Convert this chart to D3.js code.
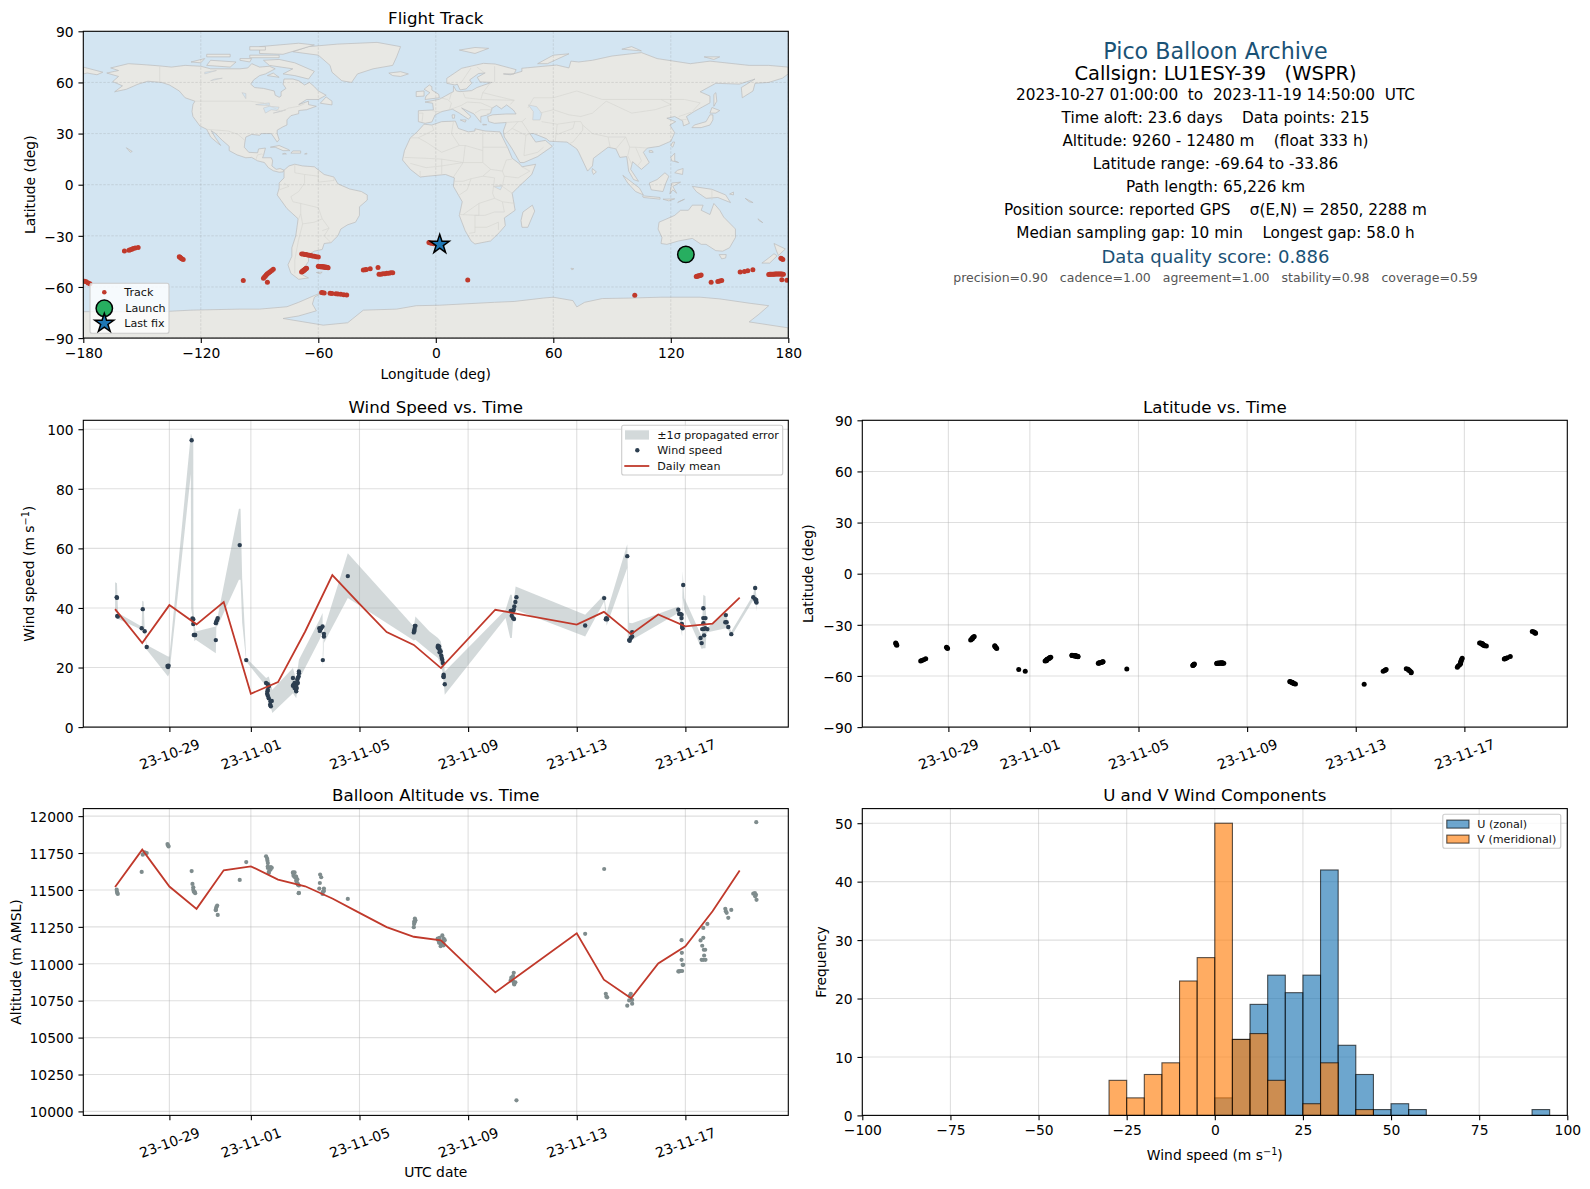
<!DOCTYPE html>
<html lang="en">

<head>
    <meta charset="UTF-8" />
    <title>Pico Balloon Archive</title>
    <script src="https://d3js.org/d3.v7.min.js"></script>
    <style>
        body { margin: 0; background: #fff; }
        text { font-family: "DejaVu Sans", sans-serif; white-space: pre; }
    </style>
</head>

<body>
    <svg id="chart" width="1590" height="1189"></svg>
</body>

<script>
// fixes, grouped by burst. fixDay = days after 2023-10-27 00:00 UTC
var fixDay = [
  0.06,0.07,0.08,0.10,
  0.98,1.02,1.09,1.165,
  1.93,1.95,1.97,
  2.82,2.85,2.88,2.88,2.90,2.93,2.95,
  3.71,3.71,3.73,3.76,3.78,
  4.59,
  4.83,
  5.56,5.60,5.61,5.625,5.625,5.625,5.66,5.66,5.71,5.72,5.735,5.77,
  6.55,6.55,6.57,6.61,6.61,6.65,6.66,6.67,6.67,6.69,6.71,6.73,6.73,6.76,6.77,6.77,
  7.52,7.54,7.55,7.59,7.64,7.65,7.69,7.69,
  8.57,
  11.0,11.01,11.02,11.03,11.04,11.06,
  11.88,11.89,11.91,11.93,11.95,11.95,11.99,12.01,12.03,12.05,12.07,12.09,12.10,12.10,12.14,
  14.57,14.59,14.605,14.655,14.655,14.68,14.69,14.70,14.74,14.78,
  17.31,
  18.01,
  18.07,18.09,18.12,
  18.86,
  18.93,18.95,18.99,19.04,19.04,
  20.74,20.77,20.82,20.86,20.86,20.87,20.88,20.90,20.92,
  21.56,21.60,21.62,21.66,21.66,21.66,21.68,21.69,21.73,21.74,21.81,
  22.47,22.49,22.52,22.58,22.69,
  23.50,23.56,23.57,23.60,23.61,23.62
];
var windSpeed = [
  43.6,43.4,37.3,37.1,
  33.2,39.6,32.2,26.9,
  20.5,20.2,20.6,
  96.3,36.5,36.2,34.6,30.9,30.9,30.9,
  29.2,34.9,35.5,36,36.6,
  61.1,
  22.5,
  14.8,11.2,12,14.4,12.5,10.5,13.7,9.7,7.5,8.6,7,8.8,
  16.5,13.9,14.2,14.8,13.1,13.7,12.5,12,13.9,13.1,15.9,14.8,16.5,17,18.1,18.7,
  33.2,32.3,32.7,33.2,33.8,22.5,31.3,30.4,
  50.7,
  31.8,32.3,32.3,33,34,34,
  26.9,27.3,26.5,27.1,26,25.1,25.4,24,23.2,22.6,21.5,17,17.6,16.8,14.4,
  39,39,37.4,39,36.6,39.4,36.3,40.5,42,43.6,
  34.1,
  43.3,
  36.2,36.6,36.2,
  57.4,
  29.2,29,29.9,30.4,31.9,
  39.4,38,38,37.7,36.6,34.6,33.6,33.2,47.7,
  29.9,28.2,32.9,34.9,36.6,39.9,32.9,30.8,33.2,36.6,32.9,
  35.2,37.6,35.2,33.6,31.2,
  43.6,43,46.7,42.2,42.7,41.8
];
var altitude = [
  11502,11487,11480,11473,
  11622,11739,11755,11750,
  11811,11802,11795,
  11628,11541,11518,11502,11487,11487,11478,
  11363,11367,11383,11394,11331,
  11568,
  11689,
  11728,11712,11698,11682,11660,11649,11622,11615,11644,11637,11655,11650,
  11615,11619,11597,11619,11588,11592,11581,11588,11563,11554,11572,11541,11536,11478,11480,11530,
  11509,11547,11604,11586,11473,11487,11509,11493,
  11439,
  11248,11270,11288,11282,11306,11295,
  11171,11165,11158,11142,11150,11176,11119,11131,11145,11192,11153,11140,11170,11125,11160,
  10888,10906,10894,10917,10883,10939,10865,10860,10875,10075,
  11203,
  11642,
  10797,10777,10773,
  10716,
  10752,10782,10797,10755,10730,
  10948,10948,10951,11027,11160,11074,10951,10993,10993,
  11158,11027,11122,11176,11027,11243,11095,11056,11095,11027,11270,
  11372,11356,11345,11311,11365,
  11475,11478,11457,11467,11959,11433
];
var latitude = [
  -40.6,-41,-41.5,-42,
  -51.2,-50.9,-50.5,-49.9,
  -43.2,-43.5,-43.9,
  -38.9,-38.4,-38.2,-37.8,-37.5,-37.2,-36.8,
  -42.2,-42.6,-43,-43.4,-43.9,
  -56.2,
  -57.2,
  -51.2,-51,-50.9,-50.7,-50.5,-50.3,-50.1,-50,-49.7,-49.5,-49.2,-49,
  -47.9,-48,-48,-48.1,-48.1,-48.2,-48.2,-48.2,-48.3,-48.3,-48.3,-48.4,-48.4,-48.5,-48.6,-48.7,
  -52.6,-52.5,-52.3,-52.2,-52,-51.9,-51.7,-51.6,
  -55.9,
  -53.9,-53.7,-53.5,-53.4,-53.2,-53,
  -52.7,-52.6,-52.6,-52.5,-52.5,-52.5,-52.4,-52.4,-52.4,-52.4,-52.4,-52.4,-52.4,-52.5,-52.6,
  -63.2,-63.4,-63.5,-63.7,-63.8,-64,-64.1,-64.3,-64.5,-64.7,
  -64.9,
  -57.3,
  -56.8,-56.5,-56.2,
  -55.7,
  -56,-56.6,-57,-57.6,-58.1,
  -54.9,-54.2,-53.5,-52.9,-52.3,-51.7,-51,-50.3,-49.6,
  -40.6,-40.7,-40.9,-41,-41.2,-41.4,-41.6,-41.8,-42,-42.2,-42.4,
  -50,-49.9,-49.8,-49.3,-48.6,
  -33.9,-34.2,-34.4,-34.6,-34.8,-34.9
];
var longitude = [
  128.2,128.5,128.9,129.2,
  155.4,157.6,159.3,161.9,
  176.2,176.7,177.2,
  -159,-156.7,-156,-155.2,-154.5,-153.5,-152,
  -131,-130.6,-130.2,-129.7,-129,
  -98.3,
  -86,
  -68.5,-68.3,-68.1,-67.9,-67.7,-67.5,-67.3,-67.1,-66.9,-66.6,-66.3,-66,
  -60,-59.6,-59.3,-59,-58.6,-58.3,-58,-57.7,-57.4,-57,-56.7,-56.4,-56,-55.7,-55.3,-55,
  -29,-28,-27,-26,-25,-24,-23,-22,
  16.3,
  133,133.4,133.9,134.4,135,135.5,
  170,170.5,171,171.6,172.2,172.7,173.2,173.8,174.3,174.9,175.4,176,176.5,177,177.5,
  -58.3,-57.8,-57,-54,-53,-51,-50,-48.5,-47,-45.5,
  101.6,
  140.6,
  144,145,146,
  176.7,
  179.3,-179.4,-178.5,-177.5,-176.6,
  -88,-87.5,-87,-86.5,-86,-85.3,-84.6,-83.8,-83,
  -68.5,-67.7,-67,-66.2,-65.4,-64.6,-63.8,-63,-62,-61,-60,
  -37,-36,-35.5,-33.5,-29.5,
  -3.5,-2.8,-2,-1,0.5,2
];

// propagated error band
var bandDay = [0,0.07,0.11,0.98,1.0,1.05,1.09,1.165,1.95,2.0,2.79,2.80,2.88,2.885,2.92,2.97,3.71,3.73,3.78,4.56,4.62,4.68,4.83,5.56,5.66,5.79,6.55,6.67,6.77,7.53,7.64,7.65,7.69,8.57,11.0,11.06,11.58,11.89,11.99,12.07,12.14,14.38,14.55,14.61,14.65,14.75,17.31,18.01,18.1,18.86,18.88,18.93,19.04,20.74,20.88,20.90,20.96,21.6,21.66,21.74,21.78,22.49,22.58,22.69,23.5,23.57,23.62];
var bandHigh = [48.6,48.3,38.3,33.8,42.4,42.2,33.2,27.6,23.7,23.7,98.4,98.4,96,39.9,34.9,32.1,33.8,36.0,37.2,73.3,73.3,50,23.2,16.5,17.0,12.5,19.8,15.9,22.6,36.0,38.3,24.8,32.7,58.4,33.8,37.1,32.1,29.9,28.8,25.4,18.7,39.4,44.4,44.4,40.5,47.2,37.7,44.4,38.3,61.4,53.4,35,34.9,40.5,37.1,52.3,43.3,30.4,44.4,43.9,33.2,38.8,34.4,32.1,44.4,48.3,43.3];
var bandLow = [38.8,38.3,36.3,32.7,33.8,32.1,31.3,26.0,17.0,18.1,85,40,34,33.8,28.8,29.3,24.8,33.8,34.0,49.5,49.5,35,22.0,13.7,9.2,4.7,11.4,9.7,15.9,29.3,32.1,19.8,28.2,43.3,29.1,29.3,25.4,23.2,20.9,18.1,10.9,36.6,29.9,29.9,34.9,39.4,30.4,42.2,34.0,53.4,30,28.4,29.3,38.3,30.4,43.3,39.4,26.2,26.5,26.5,31.8,33.2,32.7,30.4,42.7,43.3,38.8];

// daily means (days with data)
var meanDay = [0,1,2,3,4,5,6,7,8,9,10,11,12,14,17,18,19,20,21,22,23];
var meanWind = [39.6,28.2,40.95,34.5,42,11.2,15.1,32.1,51,41.4,31.9,27.6,19.8,39.4,34.4,38.7,31.2,37.8,33.8,34.7,43.5];
var meanAlt = [11520,11773,11523,11372,11633,11660,11570,11525,11442,11345,11248,11183,11158,10806,11207,10892,10766,11002,11119,11356,11631];

// histogram, 5 m/s bins (left edge, count)
var uEdge = [0,5,10,15,20,25,30,35,40,45,50,55,90];
var uCount = [3,13,19,24,21,24,42,12,7,1,2,1,1];
var vEdge = [-30,-25,-20,-15,-10,-5,0,5,10,15,25,30,40];
var vCount = [6,3,7,9,23,27,50,13,14,6,2,9,1];

var dateTicks = ['2023-10-29','2023-11-01','2023-11-05','2023-11-09','2023-11-13','2023-11-17'];
var lonTicks = [-180,-120,-60,0,60,120,180];
var latTicks = [-90,-60,-30,0,30,60,90];
var windTicks = [0,20,40,60,80,100];
var altTicks = [10000,10250,10500,10750,11000,11250,11500,11750,12000];
var histXTicks = [-100,-75,-50,-25,0,25,50,75,100];
var histYTicks = [0,10,20,30,40,50];

var launchFix = [127.7, -40.9];
var lastFix = [2, -35];

var summaryLines = [
  ['Pico Balloon Archive', 50.8, 22.2, '#1a5276'],
  ['Callsign: LU1ESY-39   (WSPR)', 73.3, 19.44, '#000'],
  ['2023-10-27 01:00:00  to  2023-11-19 14:50:00  UTC', 94.3, 15.28, '#000'],
  ['Time aloft: 23.6 days    Data points: 215', 117.3, 15.28, '#000'],
  ['Altitude: 9260 - 12480 m    (float 333 h)', 140.3, 15.28, '#000'],
  ['Latitude range: -69.64 to -33.86', 163.3, 15.28, '#000'],
  ['Path length: 65,226 km', 186.3, 15.28, '#000'],
  ['Position source: reported GPS    \u03c3(E,N) = 2850, 2288 m', 209.3, 15.28, '#000'],
  ['Median sampling gap: 10 min    Longest gap: 58.0 h', 232.3, 15.28, '#000'],
  ['Data quality score: 0.886', 256.7, 18.05, '#1a5276'],
  ['precision=0.90   cadence=1.00   agreement=1.00   stability=0.98   coverage=0.59', 277.7, 12.5, '#555']
];

// rough coastlines, lon/lat
var landRings = [
  // north america
  [[-168,65.5],[-164,66.5],[-162,67],[-166,68.5],[-157,71],[-150,70.5],[-141,69.7],[-135,69],[-128,70],[-120,69.5],[-115,68],[-108,68],[-100,68],[-96,68.5],[-94,71],[-90,69],[-85,69.5],[-82,68],[-87,65],[-90,64],[-93,61.5],[-94.5,59],[-92.5,57],[-88,56.5],[-82.5,55],[-82,52.5],[-80,51.3],[-79,52],[-79,54.5],[-76.5,56.5],[-78,59],[-77.5,62],[-73,62],[-70,61],[-67,58.5],[-64.5,60],[-62,57.5],[-60,55],[-56,52.5],[-60,50],[-66,50],[-70,47],[-65,49],[-65,47],[-61,46],[-66,44],[-70,43.5],[-70,41.7],[-74,40.5],[-76,38],[-76,35],[-78,34],[-81,32],[-81,30],[-80,26.5],[-81,25],[-82.5,27.5],[-84,30],[-89,30],[-90,29],[-94,29.5],[-97,28],[-97.5,25],[-97.8,22],[-95.5,19],[-91,18.7],[-90.5,21],[-87,21.5],[-88,17],[-88.5,15.8],[-84,15.8],[-83.3,14],[-83.7,11],[-81.5,9],[-79.5,9.5],[-77.5,8.5],[-78,7.5],[-80,7.3],[-83,8.2],[-85.5,10],[-87.5,13],[-91,14],[-94,16],[-97,15.8],[-101.5,17.5],[-105.5,20],[-105.5,22.5],[-109,26],[-112.5,30],[-114.7,31.7],[-112.5,27.5],[-109.8,23],[-112,25],[-115,28],[-117,32.5],[-120.5,34.5],[-124,40],[-124.5,43],[-124,47],[-123,49],[-128,51],[-131,55],[-136,58.5],[-140,60],[-147,60.7],[-152,59],[-158,56],[-164,54.5],[-160,58],[-165,60.5],[-162,63.5],[-168,65.5]],
  // south america
  [[-77.5,8.5],[-75,11],[-72,12],[-68,11],[-62,10.5],[-57,6],[-52,4.5],[-50,0.5],[-44,-2.5],[-38,-4],[-35,-6],[-35,-9],[-39,-13],[-39,-18],[-41,-22],[-45,-23.5],[-48.5,-26],[-50,-30],[-53.5,-34],[-57,-34.5],[-58,-38],[-62,-39],[-65,-41],[-65,-45],[-68,-50],[-68,-53],[-65,-54.7],[-70,-55.5],[-74,-52],[-75.5,-47],[-73.5,-42],[-73.5,-37],[-71.5,-30],[-70.3,-20],[-76,-14],[-81,-6],[-80,-2],[-80,1],[-77.5,4],[-77.5,8.5]],
  // africa
  [[-6,35.5],[-2,35],[3,37],[10,37.3],[11.5,33],[16.6,31],[20,31.5],[20,32.8],[25.2,31.5],[32.8,31],[34,28],[37,21],[39,15.5],[43,12],[44,10.5],[51,12],[49,6],[42,-1.5],[39,-5],[40.5,-15],[35,-19.5],[35.5,-24],[32.5,-28],[28,-33],[20,-34.8],[18,-33],[15,-27],[12,-18],[13.5,-10],[9,-1],[9.5,4],[5,6],[-4,5],[-8,4.5],[-13,9],[-17,14.5],[-16,20],[-13,27.5],[-9.5,31],[-6,35.5]],
  // eurasia
  [[-8.9,37],[-8.9,43.4],[-1.2,43.9],[-1.6,47.8],[-5.5,48.5],[1.8,50.1],[7.3,53.6],[9,54.6],[9,58],[10.5,55],[12.4,54.6],[18.3,55.2],[21,57],[23.4,58],[28.6,60],[22.6,60.3],[21.2,63],[25.2,65.6],[21.8,65.2],[17.3,61.5],[18.3,59.5],[15.5,56.2],[12.4,55.6],[11,59],[9.8,58.5],[5.6,59.5],[5.6,62.4],[13.2,68.3],[24.3,71.2],[30.3,70.8],[41,67.5],[40,65],[34.5,65],[38,64.5],[44,66.5],[43.9,68.3],[53.2,69.3],[61.7,70.2],[68,68.5],[69,72.5],[73,72],[80,73],[90,75.5],[105,77.5],[113,74],[130,71],[140,72.5],[160,70],[170,70],[180,69],[180,65],[177,62.5],[170,60],[163,59.5],[162,55],[156.5,51],[156,57],[163,62],[155,59],[143,59.5],[135,54.5],[140,52],[140,48],[132,43],[128,40],[129.5,36],[126.5,34.5],[126,37.5],[122,40],[118,39],[122.5,37],[119.5,35],[122,30.5],[120,25.5],[114,22.5],[108,21.5],[106,19],[109,13],[105,9],[100.5,13.5],[99.5,9],[103.5,2],[101,3],[98.5,8],[97.5,16.5],[94,16],[92,21],[88,22],[80.5,15.5],[80,11],[77.5,8],[73,19],[72,21],[67,25],[58,25.5],[56.5,27],[50,30],[48,30],[51,25],[56,26],[59.5,22.5],[52,16.5],[45,13],[43,13],[39,21],[35,28],[34.5,31.5],[36,36.5],[30,36],[27,37],[26.5,40],[29,41],[36.2,41.5],[41,41.5],[39.6,43.8],[36.2,46.8],[33.5,44.5],[31,46.5],[28.6,44.8],[28,42],[26,40.8],[23,40],[23,36.5],[19.5,41.5],[13.2,45],[18,40],[16.6,38.5],[12,42],[8.5,44.3],[3,42.9],[-0.4,40.9],[-2,36.8],[-5.5,36],[-8.9,37]],
  // chukotka past the dateline
  [[-180,69],[-175,67.5],[-170,66],[-173,64.5],[-178,65.5],[-180,65]],
  // australia and nearby
  [[114,-22],[122,-18],[125,-15],[129,-15],[131,-12],[136.5,-12],[135.5,-15],[140,-17.5],[142,-11],[145,-15],[147,-19],[153,-26],[153,-31],[150,-37],[146.5,-39],[143,-38.7],[138,-35],[135.5,-35],[131,-31.5],[124,-33],[118,-35],[115,-34.5],[115.5,-31],[113.5,-26],[114,-22]],
  [[144.7,-41],[148.3,-41],[148,-43],[146,-43.5]],
  [[172.7,-34.5],[178.5,-37.7],[175,-41.5],[174,-39]],
  [[172.7,-40.5],[174.3,-41.7],[170.5,-46],[166.5,-46],[170,-43]],
  // greenland and arctic
  [[-73,78],[-65,81],[-50,82.5],[-30,83.5],[-18,81],[-20,75],[-22,70],[-32,68],[-40,65],[-43,60],[-48,61],[-53,66],[-54,70],[-60,76]],
  [[-80,73.5],[-72,71.5],[-62,66.5],[-65,62],[-72,64],[-78,65],[-73,68],[-85,70],[-88,73]],
  [[-117,70],[-105,69],[-102,72],[-115,73]],
  [[-125,72],[-118,74],[-120,71.5]],
  [[-90,77],[-78,76.5],[-62,82],[-70,83],[-90,81]],
  [[-95,74.5],[-80,74.5],[-80,76],[-95,76]],
  [[-117,75],[-105,75],[-105,76.5],[-117,76.5]],
  [[-95,79],[-87,79],[-87,81],[-95,81]],
  [[-100,73],[-95,72],[-94,74],[-100,74]],
  [[-86,64],[-80,63],[-83,65.5]],
  [[-59,47.8],[-53,46.8],[-53,49],[-56,51.5]],
  [[-24,65.5],[-18,66.3],[-14,65],[-18,63.5],[-22,64]],
  [[12,79],[20,80.5],[27,80],[20,77]],
  [[52,71],[57,71],[68,76.8],[60,76]],
  [[95,79.5],[105,78.5],[100,81]],
  [[137,75],[145,75],[142,73.5]],
  // caribbean
  [[-84.5,22],[-80,23],[-75,20.5],[-74.5,20],[-78,20],[-82,22]],
  [[-74,18.5],[-69,18.5],[-69,19.8],[-73,19.8]],
  [[-78.3,18],[-76.3,18],[-77,18.5]],
  [[-67,18],[-65.7,18],[-66,18.5]],
  // europe islands
  [[-5.5,50],[1.8,51],[1.5,53],[-2,55.5],[-2,57.5],[-3.3,58.5],[-6,56],[-3,54],[-5,52]],
  [[-10,51.7],[-6,52],[-6,55],[-10,54.6]],
  [[12.5,38],[15.5,38],[15,36.7]],
  [[8.3,41],[9.7,41],[9.5,39],[8.5,39]],
  [[24,35.5],[26,35.2],[24,35]],
  // east asia
  [[142,46],[143.5,49],[143,54],[142,53]],
  [[130.8,33.5],[135.5,33.5],[140,35],[141.5,38],[141.5,41],[140,41],[138,37],[132,35]],
  [[140,42],[141,45.3],[145,43.5],[143,42]],
  [[120,23],[121,22],[122,25],[121,25]],
  [[109,19],[111,19],[110.5,20],[109,20]],
  // south east asia
  [[120,16],[122,18.5],[122,14],[124,13],[120.5,14]],
  [[122,7],[126,6],[126.3,9.5],[123.5,8.5]],
  [[109,1],[113,3],[117,7],[119,5],[117.5,1],[116,-4],[110,-3]],
  [[95.5,5.5],[104,-2],[106,-6],[102,-4],[98,1]],
  [[105.5,-6.5],[114.5,-7.5],[114.5,-8.5],[106,-7.5]],
  [[119.5,-5.5],[120.5,1],[125,1.5],[121,-1],[123,-5],[121,-3]],
  [[131,-1],[141,-2.7],[148,-6],[150.5,-10.5],[144,-7.5],[138,-8],[133,-4]],
  [[124,-10],[127,-8.5],[123.5,-10.5]],
  [[116,-8.5],[122,-8.3],[119,-9.5]],
  [[150,-5.5],[152,-4.3],[152,-6]],
  [[158,-8],[162,-10.5],[160,-10]],
  [[165,-21],[167,-22.3],[164.5,-20]],
  // small islands
  [[80,9.5],[82,7.5],[80.5,6],[79.8,8]],
  [[49.3,-12],[50.5,-15.5],[47,-25],[44,-25],[43.5,-21],[44.5,-16]],
  [[-61,-51.5],[-58,-51.3],[-59,-52.3]],
  [[69,-49],[70.5,-49.3],[69.5,-50]],
  [[-158,21.7],[-155,19.5],[-156,19]],
  // antarctica
  [[-180,-74.5],[-160,-74.5],[-140,-74.5],[-125,-73.6],[-100,-73],[-90,-73],[-76,-71.6],[-70,-69],[-62,-65],[-57.5,-63],[-62,-66],[-63,-70],[-61,-74],[-70,-77],[-78,-78.5],[-57.5,-82.4],[-45,-81],[-37,-73.6],[-20,-73],[-10,-71],[2,-70.7],[30,-69],[40,-68.5],[55,-66.5],[60,-66],[70,-68],[72,-71.7],[76,-69],[85,-66.8],[100,-66.5],[115,-66],[135,-66],[145,-67],[160,-69.5],[170,-71],[165,-76],[160,-80.5],[180,-84],[180,-90],[-180,-90]]
];
var lakeRings = [
  [[47.3,46.8],[51.5,45.8],[54.1,41.9],[53.2,38],[49.5,38],[49.8,42.9]],
  [[-92,47],[-85,48],[-85,46.5],[-90,46.7]],
  [[-88,45],[-85,46],[-80,45.5],[-81,43.5],[-84,44],[-87,42]],
  [[-83,42],[-76.5,44],[-79,43]],
  [[29.5,-1],[34,-0.5],[33,-3]],
  [[-118,66],[-112,67],[-118,65]],
  [[-113,62],[-109,62.5],[-115,61]],
  [[-99,54],[-97,53.5],[-97,50.5]]
];
var borderLines = [
  [[-123,49],[-95,49],[-88,48],[-82.5,45],[-79,43],[-75,45],[-70,46],[-67,47.5]],
  [[-141,69.7],[-141,60]],
  [[-117,32.5],[-106,31.5],[-101,29.5],[-97.5,26]],
  [[-92,14.5],[-91,17.5],[-89,18],[-88,17]],
  [[-72,12],[-72,7],[-67,6],[-67,1],[-70,-4],[-74,-7],[-73,-10],[-69,-11],[-69,-17],[-70,-20]],
  [[-67,6],[-60,5],[-60,8.5]],
  [[-60,5],[-60,1.5],[-52,2.5],[-52,4.5]],
  [[-69,-11],[-60,-13.5],[-58,-20],[-54.5,-25.5],[-57,-30],[-53.5,-34]],
  [[-69,-17],[-68,-23],[-70,-32],[-72,-44],[-72,-52]],
  [[-68,-23],[-62,-22],[-58,-20]],
  [[-54.5,-25.5],[-58,-27]],
  [[-80,-3],[-75,-1],[-77.5,1]],
  [[-2,35],[-1,32],[-9,27.5],[-13,27.5]],
  [[-9,27.5],[-5,25],[3,19],[12,23],[15,23],[24,20],[24,31.5]],
  [[9,37],[8,30],[12,23]],
  [[24,22],[37,22]],
  [[-16,16],[-5,15.5],[3,15],[14,13],[15,23]],
  [[-13,12.5],[-5,10],[3,11],[14,13],[24,13],[24,20]],
  [[3,15],[3,6]],
  [[-8,8],[-8,4.5]],
  [[9,4.5],[14,13]],
  [[24,13],[28,9],[34,8],[36,14.5],[39,15]],
  [[34,8],[35,5],[42,4],[48,8],[44,10.5]],
  [[35,5],[34,-1],[39,-5]],
  [[34,-1],[29.5,-1],[29,-5],[30,-8],[34,-10],[40.5,-11]],
  [[28,9],[24,5],[18,3.5],[14,2],[9.5,2]],
  [[29.5,-1],[30,4],[24,5]],
  [[18,3.5],[16,-3],[12,-6]],
  [[30,-8],[22,-11],[14,-17.5]],
  [[22,-11],[22,-18],[12,-17.5]],
  [[34,-10],[35,-16],[30,-16],[25,-18],[20,-18]],
  [[20,-18],[20,-28],[17,-28.5]],
  [[20,-25],[26,-25],[32,-22],[32,-26.5]],
  [[-9,42],[-6.5,42],[-7,37]],
  [[-2,43.5],[3,42.5]],
  [[2,51],[6,50],[8,48],[7,44]],
  [[7,44],[13,46.5],[16,48.5],[23,48],[29,45]],
  [[8,54],[7,50]],
  [[14,54],[15,51],[23,50],[24,54],[28,60]],
  [[23,50],[40,49.5],[38,47]],
  [[24,54],[31,52],[40,49.5]],
  [[20,42],[23,44],[29,44]],
  [[26,41.5],[28,42]],
  [[30,60],[30,69.5]],
  [[13,60],[18,68.5]],
  [[21,69],[25,65.5]],
  [[47,45],[50,51],[60,51],[72,55],[85,50],[98,50],[115,50],[127,50],[135,48],[131,43]],
  [[87,49],[100,42],[112,44],[120,47],[115,50]],
  [[53,42],[60,44],[68,41],[74,40],[80,42],[87,49]],
  [[54,37],[62,35.5],[71,37],[74,37],[75,35],[80,30],[88,28],[97,28],[99,22],[102,22],[108,21.5]],
  [[62,35.5],[61,25.5]],
  [[71,37],[70,33],[62,29.5]],
  [[75,35],[75,32],[70,25],[68,24]],
  [[88,28],[89,22]],
  [[97,28],[92,21]],
  [[99,22],[98,17],[100,12]],
  [[102,22],[105,14],[103,11]],
  [[46,39],[44,37],[48,30]],
  [[36,36.5],[42,37],[44,37]],
  [[39,33],[42,37]],
  [[35,29.5],[39,33],[46,29],[48,30]],
  [[46,29],[45,17],[52,19],[55,22]],
  [[130.5,42.5],[124,40]],
  [[128,38.3],[124.5,38]],
  [[141,-2.7],[141,-9]]
];

var width = 1590, height = 1189;
var fontTick = 13.89, fontLabel = 13.89, fontTitle = 16.67, fontLegend = 11.11;

var left1 = 83.3, left2 = 862.3, panelW = 705, panelH = 306.8;
var top1 = 31.3, top2 = 420.3, top3 = 808.6;

var svg = d3.select('#chart');
svg.append('rect').attr('width', width).attr('height', height).attr('fill', '#fff');

var parseDay = d3.utcParse('%Y-%m-%d');
var dayZero = parseDay('2023-10-27');
function toDate(d) { return new Date(dayZero.getTime() + d * 864e5); }
var fmtDate = d3.utcFormat('%y-%m-%d');
var minus = function (v) { return String(v).replace('-', '\u2212'); };

var timeDomain = [toDate(-1.17), toDate(24.79)];

// frame, grid and axes for one panel, returns the inner group
function makePanel(cfg) {
  var g = svg.append('g').attr('transform', `translate(${cfg.left}, ${cfg.top})`);

  var grid = g.append('g');
  cfg.xTicks.forEach(function (t) {
    grid.append('line').attr('x1', cfg.x(t)).attr('x2', cfg.x(t)).attr('y1', 0).attr('y2', panelH)
      .attr('stroke', '#b0b0b0').attr('stroke-opacity', 0.4).attr('stroke-width', 1.1);
  });
  cfg.yTicks.forEach(function (t) {
    grid.append('line').attr('y1', cfg.y(t)).attr('y2', cfg.y(t)).attr('x1', 0).attr('x2', panelW)
      .attr('stroke', '#b0b0b0').attr('stroke-opacity', 0.4).attr('stroke-width', 1.1);
  });

  g.append('text').attr('x', panelW / 2).attr('y', -7.5).attr('text-anchor', 'middle')
    .attr('font-size', fontTitle).text(cfg.title);

  if (cfg.yLabel) {
    var yl = g.append('text').attr('transform', `translate(${cfg.yLabelX - cfg.left}, ${panelH / 2}) rotate(-90)`)
      .attr('text-anchor', 'middle').attr('font-size', fontLabel);
    addLabel(yl, cfg.yLabel);
  }
  if (cfg.xLabel) {
    var xl = g.append('text').attr('x', panelW / 2).attr('y', cfg.xLabelY - cfg.top)
      .attr('text-anchor', 'middle').attr('font-size', fontLabel);
    addLabel(xl, cfg.xLabel);
  }
  return g;
}

// "m s-1" is set with a raised exponent
function addLabel(sel, label) {
  if (label.indexOf('^') < 0) { sel.text(label); return; }
  var parts = label.split('^');
  sel.append('tspan').text(parts[0]);
  sel.append('tspan').attr('font-size', 9.7).attr('dy', -5).text('\u22121');
  sel.append('tspan').attr('dy', 5).text(parts[1]);
}

// drawn last so spines and ticks sit above the marks
function finishPanel(g, cfg) {
  g.append('rect').attr('width', panelW).attr('height', panelH).attr('fill', 'none')
    .attr('stroke', '#000').attr('stroke-width', 1.1);
  var xAxis = d3.axisBottom(cfg.x).tickValues(cfg.xTicks).tickSize(4.86).tickPadding(4.8)
    .tickFormat(cfg.xFormat);
  var yAxis = d3.axisLeft(cfg.y).tickValues(cfg.yTicks).tickSize(4.86).tickPadding(4.8)
    .tickFormat(cfg.yFormat);
  var gx = g.append('g').attr('transform', `translate(0, ${panelH})`).call(xAxis);
  var gy = g.append('g').call(yAxis);
  [gx, gy].forEach(function (a) {
    a.select('.domain').remove();
    a.selectAll('line').attr('stroke', '#000').attr('stroke-width', 1.1);
    a.selectAll('text').attr('fill', '#000').attr('font-size', fontTick)
      .style('font-family', '"DejaVu Sans", sans-serif');
  });
  gy.selectAll('text').attr('dy', '0.38em');
  if (cfg.rotate) {
    gx.selectAll('text').attr('y', 0).attr('dy', 0).attr('text-anchor', 'middle')
      .attr('dominant-baseline', 'middle')
      .attr('transform', 'translate(0, 28) rotate(-20)');
  }
}

function legendBox(g, x, y, w, h) {
  g.append('rect').attr('x', x).attr('y', y).attr('width', w).attr('height', h).attr('rx', 2)
    .attr('fill', '#fff').attr('fill-opacity', 0.8).attr('stroke', '#ccc').attr('stroke-width', 1.1);
}
function legendText(g, x, y, label) {
  g.append('text').attr('x', x).attr('y', y).attr('dy', '0.36em').attr('font-size', fontLegend)
    .attr('fill', '#111').text(label);
}

// ---- flight track ----
var lonX = d3.scaleLinear().domain([-180, 180]).range([0, panelW]);
var latY = d3.scaleLinear().domain([-90, 90]).range([panelH, 0]);
var trackCfg = {
  left: left1, top: top1, x: lonX, y: latY, xTicks: [], yTicks: [], title: 'Flight Track',
  yLabel: 'Latitude (deg)', yLabelX: 34.5, xLabel: 'Longitude (deg)', xLabelY: 379,
  xFormat: minus, yFormat: minus
};
var trackG = makePanel(trackCfg);
trackCfg.xTicks = lonTicks; trackCfg.yTicks = latTicks;

svg.append('defs').append('clipPath').attr('id', 'map-clip').append('rect')
  .attr('width', panelW).attr('height', panelH);
var mapG = trackG.append('g').attr('clip-path', 'url(#map-clip)');
mapG.append('rect').attr('width', panelW).attr('height', panelH).attr('fill', '#d3e5f2');

var coast = d3.line().x(function (d) { return lonX(d[0]); }).y(function (d) { return latY(d[1]); });
mapG.selectAll('path.land').data(landRings).enter().append('path').attr('class', 'land')
  .attr('d', function (r) { return coast(r) + 'Z'; })
  .attr('fill', '#e8e8e4').attr('stroke', '#bcbcbc').attr('stroke-width', 0.7).attr('stroke-linejoin', 'round');
mapG.selectAll('path.lake').data(lakeRings).enter().append('path').attr('class', 'lake')
  .attr('d', function (r) { return coast(r) + 'Z'; })
  .attr('fill', '#d3e5f2').attr('stroke', '#c4c4c4').attr('stroke-width', 0.5);
mapG.selectAll('path.border').data(borderLines).enter().append('path').attr('class', 'border')
  .attr('d', coast).attr('fill', 'none').attr('stroke', '#d7d7d3').attr('stroke-width', 0.7);

lonTicks.forEach(function (t) {
  mapG.append('line').attr('x1', lonX(t)).attr('x2', lonX(t)).attr('y1', 0).attr('y2', panelH)
    .attr('stroke', '#888').attr('stroke-opacity', 0.3).attr('stroke-width', 0.7).attr('stroke-dasharray', '2.5,1.5');
});
latTicks.forEach(function (t) {
  mapG.append('line').attr('y1', latY(t)).attr('y2', latY(t)).attr('x1', 0).attr('x2', panelW)
    .attr('stroke', '#888').attr('stroke-opacity', 0.3).attr('stroke-width', 0.7).attr('stroke-dasharray', '2.5,1.5');
});

mapG.selectAll('circle.track').data(d3.range(fixDay.length)).enter().append('circle').attr('class', 'track')
  .attr('cx', function (i) { return lonX(longitude[i]); })
  .attr('cy', function (i) { return latY(latitude[i]); })
  .attr('r', 2.5).attr('fill', '#c0392b');
var starPath = d3.symbol().type(d3.symbolStar).size(112)();
mapG.append('circle').attr('cx', lonX(launchFix[0])).attr('cy', latY(launchFix[1])).attr('r', 8.2)
  .attr('fill', '#27ae60').attr('stroke', '#000').attr('stroke-width', 1.5);
mapG.append('path').attr('d', starPath)
  .attr('transform', `translate(${lonX(lastFix[0])}, ${latY(lastFix[1])})`)
  .attr('fill', '#1f77b4').attr('stroke', '#000').attr('stroke-width', 1.5);
finishPanel(trackG, trackCfg);

legendBox(trackG, 6.7, 252, 79, 50);
trackG.append('circle').attr('cx', 21).attr('cy', 261).attr('r', 2.3).attr('fill', '#c0392b');
trackG.append('circle').attr('cx', 21).attr('cy', 277).attr('r', 8.2).attr('fill', '#27ae60')
  .attr('stroke', '#000').attr('stroke-width', 1.5);
trackG.append('path').attr('d', starPath).attr('transform', 'translate(21, 292)')
  .attr('fill', '#1f77b4').attr('stroke', '#000').attr('stroke-width', 1.5);
legendText(trackG, 41, 261, 'Track');
legendText(trackG, 42, 277, 'Launch');
legendText(trackG, 41, 292, 'Last fix');

// ---- summary text ----
svg.append('g').selectAll('text').data(summaryLines).enter().append('text')
  .attr('x', 1215.5).attr('y', function (d) { return d[1]; }).attr('dy', '0.36em')
  .attr('text-anchor', 'middle').attr('font-size', function (d) { return d[2]; })
  .attr('fill', function (d) { return d[3]; }).text(function (d) { return d[0]; });

// ---- wind speed ----
var windX = d3.scaleUtc().domain(timeDomain).range([0, panelW]);
var windY = d3.scaleLinear().domain([0, 103]).range([panelH, 0]);
var dateValues = dateTicks.map(function (d) { return parseDay(d); });
var windCfg = {
  left: left1, top: top2, x: windX, y: windY, xTicks: dateValues, yTicks: windTicks,
  title: 'Wind Speed vs. Time', yLabel: 'Wind speed (m s^)', yLabelX: 34, rotate: true,
  xFormat: fmtDate, yFormat: String
};
var windG = makePanel(windCfg);
var bandArea = d3.area()
  .x(function (d, i) { return windX(toDate(bandDay[i])); })
  .y0(function (d, i) { return windY(bandLow[i]); })
  .y1(function (d, i) { return windY(bandHigh[i]); });
windG.append('path').attr('d', bandArea(bandDay)).attr('fill', '#95a5a6').attr('fill-opacity', 0.42);
windG.selectAll('circle').data(fixDay).enter().append('circle')
  .attr('cx', function (d) { return windX(toDate(d)); })
  .attr('cy', function (d, i) { return windY(windSpeed[i]); })
  .attr('r', 2.2).attr('fill', '#2c3e50');
var meanLineW = d3.line().x(function (d) { return windX(toDate(d)); })
  .y(function (d, i) { return windY(meanWind[i]); });
windG.append('path').attr('d', meanLineW(meanDay)).attr('fill', 'none').attr('stroke', '#c0392b').attr('stroke-width', 1.8);
finishPanel(windG, windCfg);

legendBox(windG, 538.4, 5, 161, 49.7);
windG.append('rect').attr('x', 541.7).attr('y', 10).attr('width', 24).attr('height', 9.3)
  .attr('fill', '#95a5a6').attr('fill-opacity', 0.42);
windG.append('circle').attr('cx', 554).attr('cy', 30).attr('r', 2.2).attr('fill', '#2c3e50');
windG.append('line').attr('x1', 541).attr('x2', 566).attr('y1', 45.7).attr('y2', 45.7)
  .attr('stroke', '#c0392b').attr('stroke-width', 1.8);
legendText(windG, 574, 15, '\u00b11\u03c3 propagated error');
legendText(windG, 574, 30, 'Wind speed');
legendText(windG, 574, 45.7, 'Daily mean');

// ---- latitude ----
var latCfg = {
  left: left2, top: top2, x: windX, y: latY, xTicks: dateValues, yTicks: latTicks,
  title: 'Latitude vs. Time', yLabel: 'Latitude (deg)', yLabelX: 813, rotate: true,
  xFormat: fmtDate, yFormat: minus
};
var latG = makePanel(latCfg);
latG.selectAll('circle').data(fixDay).enter().append('circle')
  .attr('cx', function (d) { return windX(toDate(d)); })
  .attr('cy', function (d, i) { return latY(latitude[i]); })
  .attr('r', 2.5).attr('fill', '#000');
finishPanel(latG, latCfg);

// ---- altitude ----
var altY = d3.scaleLinear().domain([9973, 12051]).range([panelH, 0]);
var altCfg = {
  left: left1, top: top3, x: windX, y: altY, xTicks: dateValues, yTicks: altTicks,
  title: 'Balloon Altitude vs. Time', yLabel: 'Altitude (m AMSL)', yLabelX: 20.5, rotate: true,
  xLabel: 'UTC date', xLabelY: 1177, xFormat: fmtDate, yFormat: String
};
var altG = makePanel(altCfg);
altG.selectAll('circle').data(fixDay).enter().append('circle')
  .attr('cx', function (d) { return windX(toDate(d)); })
  .attr('cy', function (d, i) { return altY(altitude[i]); })
  .attr('r', 2.1).attr('fill', '#7f8c8d');
var meanLineA = d3.line().x(function (d) { return windX(toDate(d)); })
  .y(function (d, i) { return altY(meanAlt[i]); });
altG.append('path').attr('d', meanLineA(meanDay)).attr('fill', 'none').attr('stroke', '#c0392b').attr('stroke-width', 1.8);
finishPanel(altG, altCfg);

// ---- histogram ----
var histX = d3.scaleLinear().domain([-100, 100]).range([0, panelW]);
var histY = d3.scaleLinear().domain([0, 52.5]).range([panelH, 0]);
var histCfg = {
  left: left2, top: top3, x: histX, y: histY, xTicks: histXTicks, yTicks: histYTicks,
  title: 'U and V Wind Components', yLabel: 'Frequency', yLabelX: 826,
  xLabel: 'Wind speed (m s^)', xLabelY: 1160, xFormat: minus, yFormat: String
};
var histG = makePanel(histCfg);
function drawBars(edges, counts, color) {
  histG.append('g').selectAll('rect').data(edges).enter().append('rect')
    .attr('x', function (d) { return histX(d); })
    .attr('width', function (d) { return histX(d + 5) - histX(d); })
    .attr('y', function (d, i) { return histY(counts[i]); })
    .attr('height', function (d, i) { return histY(0) - histY(counts[i]); })
    .attr('fill', color).attr('fill-opacity', 0.65)
    .attr('stroke', '#000').attr('stroke-opacity', 0.65).attr('stroke-width', 1.1);
}
drawBars(uEdge, uCount, '#1f77b4');
drawBars(vEdge, vCount, '#ff7f0e');
finishPanel(histG, histCfg);

legendBox(histG, 580.5, 5.7, 118, 34);
[['#1f77b4', 'U (zonal)', 15.5], ['#ff7f0e', 'V (meridional)', 30.5]].forEach(function (d) {
  histG.append('rect').attr('x', 584.5).attr('y', d[2] - 4).attr('width', 22.2).attr('height', 8)
    .attr('fill', d[0]).attr('fill-opacity', 0.65).attr('stroke', '#000').attr('stroke-opacity', 0.65).attr('stroke-width', 1.1);
  legendText(histG, 615, d[2], d[1]);
});
</script>

</html>
